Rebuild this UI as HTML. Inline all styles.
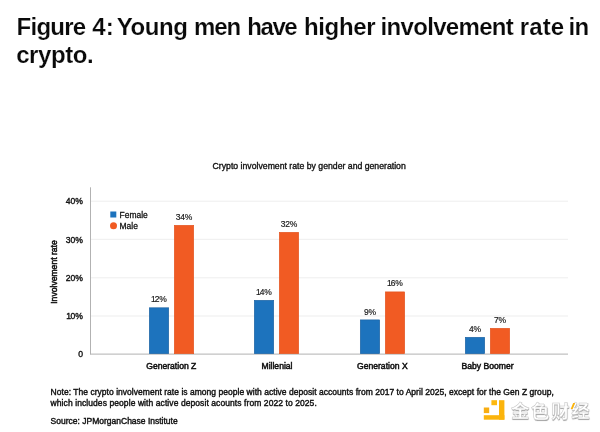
<!DOCTYPE html>
<html><head><meta charset="utf-8">
<style>
html,body{margin:0;padding:0;background:#fff;}
body{width:600px;height:432px;position:relative;overflow:hidden;font-family:"Liberation Sans","Noto Sans CJK SC",sans-serif;color:#111;}
.abs{position:absolute;white-space:nowrap;}
.tw{position:absolute;white-space:nowrap;font-size:24px;line-height:28.5px;font-weight:bold;-webkit-text-stroke:0.18px #fff;color:#0a0a0a;}
.yl{position:absolute;width:30px;text-align:right;left:53px;font-size:8.6px;line-height:10px;-webkit-text-stroke:0.38px #111;color:#111;}
.vl{position:absolute;width:30px;text-align:center;font-size:8.5px;line-height:10px;letter-spacing:-0.25px;-webkit-text-stroke:0.18px #1a1a1a;color:#1a1a1a;}
.cl{position:absolute;width:100px;text-align:center;font-size:8.6px;line-height:10px;-webkit-text-stroke:0.5px #111;color:#111;top:361px;}
.lg{font-size:8.5px;line-height:10px;-webkit-text-stroke:0.28px #111;color:#111;}
.note{font-size:8.5px;line-height:11.5px;-webkit-text-stroke:0.4px #111;color:#111;}
.n1{margin:0 -0.55px 0 -0.45px;}
</style></head><body>
<div id="title"><span class="tw" style="left:16.6px;top:12.6px;letter-spacing:-0.76px">Figure</span> <span class="tw" style="left:92.3px;top:12.6px;letter-spacing:0.04px">4:</span> <span class="tw" style="left:116.8px;top:12.6px;letter-spacing:-0.42px">Young</span> <span class="tw" style="left:194.1px;top:12.6px;letter-spacing:-1.18px">men</span> <span class="tw" style="left:247.3px;top:12.6px;letter-spacing:-1.45px">have</span> <span class="tw" style="left:303.9px;top:12.6px;letter-spacing:-0.32px">higher</span> <span class="tw" style="left:380.5px;top:12.6px;letter-spacing:-0.67px">involvement</span> <span class="tw" style="left:519.7px;top:12.6px;letter-spacing:0.14px">rate</span> <span class="tw" style="left:568.5px;top:12.6px;letter-spacing:-0.79px">in</span> <span class="tw" style="left:16.2px;top:41.2px;letter-spacing:-0.43px">crypto.</span></div>
<div class="abs" style="left:209.2px;width:200px;text-align:center;top:160.5px;font-size:8.7px;line-height:10px;-webkit-text-stroke:0.35px #111;">Crypto involvement rate by gender and generation</div>
<svg class="abs" style="left:0;top:0" width="600" height="432" viewBox="0 0 600 432">
<rect x="91" y="200.7" width="477" height="1" fill="#eeeeee"/>
<rect x="91" y="238.8" width="477" height="1" fill="#eeeeee"/>
<rect x="91" y="277.3" width="477" height="1" fill="#eeeeee"/>
<rect x="91" y="315.5" width="477" height="1" fill="#eeeeee"/>
<rect x="90" y="187.3" width="1" height="167.0" fill="#b2b2b2"/>
<rect x="90" y="353.6" width="478" height="1" fill="#b2b2b2"/>
<rect x="149.3" y="307.8" width="19.4" height="45.9" fill="#1d73bd" stroke="#1a5f9f" stroke-width="0.6"/>
<rect x="174.3" y="225.3" width="19.4" height="128.4" fill="#f15b23" stroke="#e2531d" stroke-width="0.6"/>
<rect x="254.3" y="300.3" width="19.4" height="53.4" fill="#1d73bd" stroke="#1a5f9f" stroke-width="0.6"/>
<rect x="279.3" y="232.3" width="19.4" height="121.4" fill="#f15b23" stroke="#e2531d" stroke-width="0.6"/>
<rect x="360.3" y="319.9" width="19.4" height="33.8" fill="#1d73bd" stroke="#1a5f9f" stroke-width="0.6"/>
<rect x="385.3" y="291.9" width="19.4" height="61.8" fill="#f15b23" stroke="#e2531d" stroke-width="0.6"/>
<rect x="465.3" y="337.3" width="19.4" height="16.4" fill="#1d73bd" stroke="#1a5f9f" stroke-width="0.6"/>
<rect x="490.3" y="328.3" width="19.4" height="25.4" fill="#f15b23" stroke="#e2531d" stroke-width="0.6"/>
<rect x="110.3" y="211.5" width="6" height="6" fill="#1d73bd"/>
<circle cx="113.5" cy="225.8" r="3.5" fill="#f15b23"/>
</svg>
<div class="yl" style="top:196px">40%</div>
<div class="yl" style="top:235px">30%</div>
<div class="yl" style="top:273px">20%</div>
<div class="yl" style="top:311px"><span class="n1">1</span>0%</div>
<div class="yl" style="top:349px">0</div>
<div class="abs" style="left:53.9px;top:272px;font-size:8.6px;line-height:10px;-webkit-text-stroke:0.5px #111;transform:translate(-50%,-50%) rotate(-90deg);">Involvement rate</div>
<div class="abs lg" style="left:119.5px;top:209.6px;">Female</div>
<div class="abs lg" style="left:119.5px;top:220.6px;">Male</div>
<div class="vl" style="left:144px;top:294px"><span class="n1">1</span>2%</div>
<div class="vl" style="left:169px;top:212px">34%</div>
<div class="vl" style="left:249px;top:287px"><span class="n1">1</span>4%</div>
<div class="vl" style="left:274px;top:219px">32%</div>
<div class="vl" style="left:355px;top:307px">9%</div>
<div class="vl" style="left:380px;top:278px"><span class="n1">1</span>6%</div>
<div class="vl" style="left:460px;top:324px">4%</div>
<div class="vl" style="left:485px;top:315px">7%</div>
<div class="cl" style="left:121.3px">Generation Z</div>
<div class="cl" style="left:227px">Millenial</div>
<div class="cl" style="left:332.3px">Generation X</div>
<div class="cl" style="left:437.5px">Baby Boomer</div>
<div class="abs note" style="left:50.6px;top:386.8px;letter-spacing:0.03px">Note: The crypto involvement rate is among people with active deposit accounts from 2017 to April 2025, except for the Gen Z group,</div>
<div class="abs note" style="left:50.6px;top:398.3px;letter-spacing:0.08px">which includes people with active deposit acounts from 2022 to 2025.</div>
<div class="abs note" style="left:50.6px;top:416.3px;">Source: JPMorganChase Institute</div>
<svg class="abs" style="left:480px;top:396px" width="30" height="30" viewBox="480 396 30 30">
<rect x="499" y="400.2" width="5.4" height="19.5" fill="#fbb40c"/>
<rect x="483.8" y="415.2" width="20.6" height="4.5" fill="#fbb40c"/>
<rect x="491.4" y="400.2" width="5.6" height="5" fill="#fdb910"/>
<rect x="483.8" y="407.5" width="5.4" height="5.6" fill="#f7ad12"/>
</svg>
<div class="abs" style="left:511px;top:400.2px;font-size:18.4px;line-height:24px;font-weight:bold;color:#fff;letter-spacing:1.7px;-webkit-text-stroke:0.5px #c4c4c4;text-shadow:0.3px 0.8px 0.8px rgba(0,0,0,0.4);">金色财经</div>
<div style="position:absolute;left:572.2px;top:402.8px;width:2.4px;height:5.6px;background:#fbb40c;transform:skewX(-22deg);"></div>
</body></html>
